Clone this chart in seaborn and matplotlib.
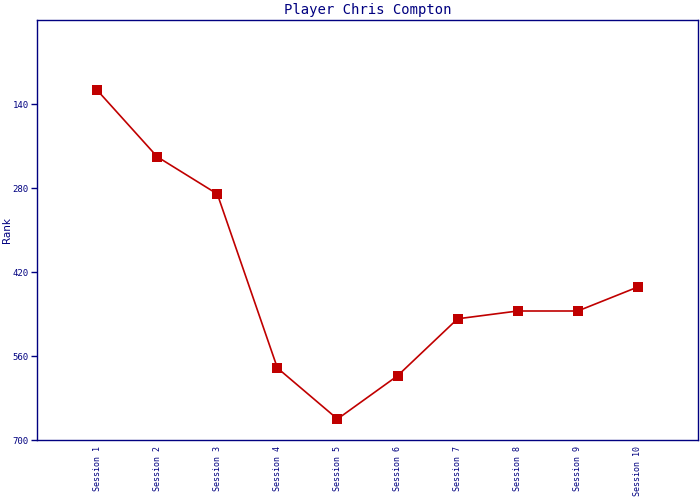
import matplotlib
matplotlib.use("Agg")
from matplotlib import pyplot as plt
import seaborn as sns
import pandas as pd

sessions = ["Session %d" % i for i in range(1, 11)]
ranks = [117, 228, 290, 580, 665, 593, 498, 485, 485, 445]
y_ticks = [140, 280, 420, 560, 700]

navy = "#000080"
red = "#C00000"

sns.set_style("white")
plt.rcParams["font.family"] = ["DejaVu Sans Mono"]

df = pd.DataFrame({"session": sessions, "rank": ranks, "pos": range(len(sessions))})

fig = plt.figure(figsize=(7, 5), dpi=100)
ax = fig.add_axes([0.053, 0.12, 0.944, 0.84])
sns.lineplot(data=df, x="pos", y="rank", ax=ax, color=red, linewidth=1.2,
             marker="s", markersize=7.5, markeredgewidth=0, sort=False)

ax.set_xlim(-1, 10)
ax.set_ylim(700, 0)
ax.set_xticks(df["pos"])
ax.set_xticklabels(sessions, rotation=90, fontsize=6, color=navy)
ax.set_yticks(y_ticks)
ax.set_yticklabels([str(v) for v in y_ticks], fontsize=6.5, color=navy)
ax.tick_params(axis="y", direction="out", length=4, width=1, color=navy, pad=2, left=True)
ax.tick_params(axis="x", length=0, pad=4)
for s in ax.spines.values():
    s.set_color(navy)
    s.set_linewidth(1)
ax.set_xlabel("")
ax.set_ylabel("Rank", fontsize=7.5, color=navy, family="DejaVu Sans", va="center")
ax.yaxis.set_label_coords(-0.045, 0.5)
ax.set_title("Player Chris Compton", fontsize=10, color=navy, pad=4)

fig.savefig("out.png", dpi=100)
